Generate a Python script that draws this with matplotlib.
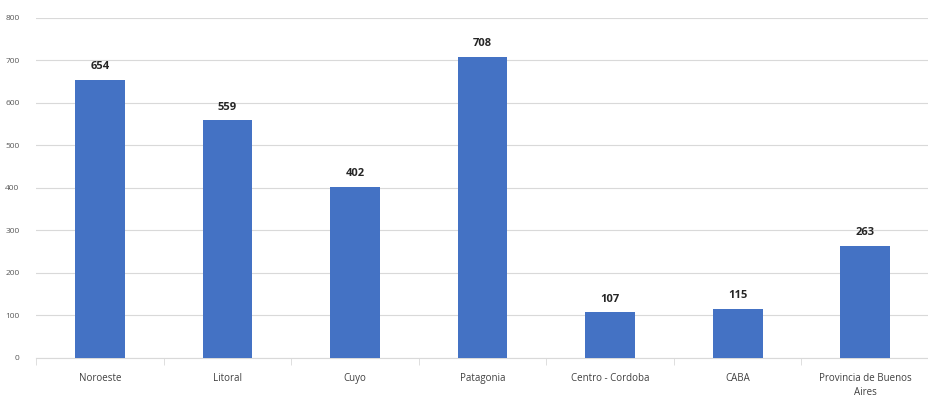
import matplotlib
matplotlib.use("Agg")
import matplotlib.pyplot as plt

regions = ["Noroeste", "Litoral", "Cuyo", "Patagonia", "Centro - Cordoba",
           "CABA", "Provincia de Buenos\nAires"]
values = [654, 559, 402, 708, 107, 115, 263]

plt.rcParams['font.family'] = ['Open Sans', 'DejaVu Sans']

fig = plt.figure(figsize=(9.29, 3.99), dpi=100)
ax = fig.add_axes([0.039, 0.103, 0.961, 0.852])

x = range(len(regions))
bars = ax.bar(x, values, width=0.39, color="#4472c4", zorder=3)

for b, v in zip(bars, values):
    ax.text(b.get_x() + b.get_width() / 2, v + 18, str(v), ha="center",
            va="bottom", fontsize=8, fontweight="bold", color="#262626")

ax.set_ylim(0, 800)
ax.set_xlim(-0.5, len(regions) - 0.5)
ax.set_yticks(range(0, 801, 100))
ax.tick_params(axis="y", length=0, labelsize=6, labelcolor="#595959", pad=12)
ax.yaxis.grid(True, color="#d9d9d9", linewidth=0.8, zorder=0)

ax.set_xticks(list(x))
ax.set_xticklabels(regions, fontsize=7, color="#404040", linespacing=1.35)
ax.tick_params(axis="x", length=0, pad=11)
# separators between categories
ax.set_xticks([i - 0.5 for i in range(len(regions) + 1)], minor=True)
ax.tick_params(axis="x", which="minor", length=5, color="#d9d9d9")

for s in ["top", "right", "left"]:
    ax.spines[s].set_visible(False)
ax.spines["bottom"].set_color("#d9d9d9")

fig.savefig("out.png", dpi=100)
